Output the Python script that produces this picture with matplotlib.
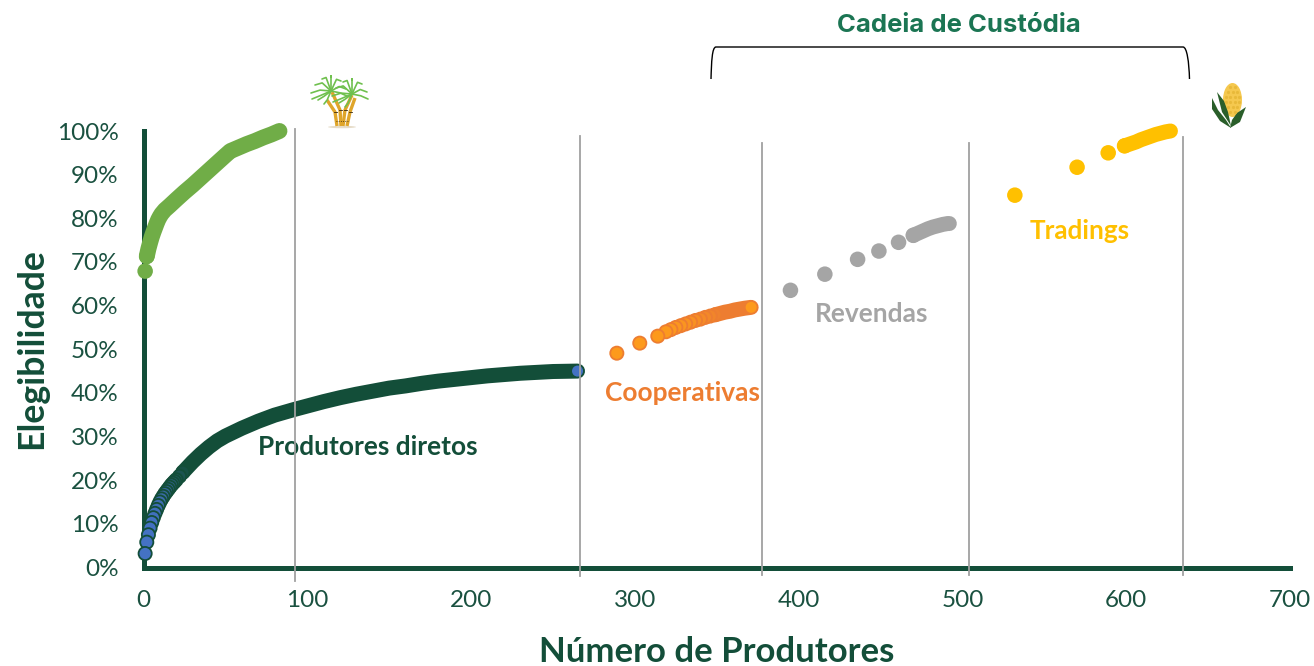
import matplotlib
matplotlib.use('Agg')
import matplotlib.pyplot as plt
from matplotlib.colors import to_rgb
from matplotlib.patches import Ellipse, PathPatch, Polygon
from matplotlib.path import Path

plt.rcParams['font.family'] = ['Lato', 'DejaVu Sans']

# dados
x_prod = [1, 2, 3, 4, 5, 6, 7, 8, 9, 10, 11, 12, 13, 14, 15, 16, 17, 18, 19, 20, 22, 24, 26, 28, 30,
          35, 40, 45, 50, 55, 60, 70, 80, 92, 100, 110, 120, 130, 140, 150, 160, 170, 180, 190, 200,
          210, 220, 230, 240, 250, 265]
y_prod = [3.2, 5.8, 7.5, 9.0, 10.3, 11.4, 12.4, 13.3, 14.2, 15.0, 15.7, 16.3, 16.9, 17.4, 17.9, 18.4,
          18.9, 19.3, 19.7, 20.1, 20.9, 21.8, 22.6, 23.4, 24.2, 26.0, 27.6, 29.0, 30.1, 31.0, 31.9,
          33.5, 34.9, 36.2, 37.0, 38.0, 38.9, 39.7, 40.4, 41.1, 41.6, 42.2, 42.7, 43.1, 43.5, 43.9,
          44.2, 44.5, 44.7, 44.9, 45.0]

x_cana = [1, 2, 3, 4, 5, 6, 7, 8, 9, 10, 11, 13, 16, 20, 25, 30, 35, 40, 45, 50, 53, 58, 63, 68, 73, 78, 83]
y_cana = [67.9, 71.3, 73.0, 74.4, 75.7, 76.8, 77.8, 78.8, 79.7, 80.4, 81.0, 81.9, 82.9, 84.3, 86.0,
          87.6, 89.3, 91.0, 92.7, 94.4, 95.4, 96.2, 97.0, 97.7, 98.5, 99.2, 100.0]

x_coop = [289, 303, 314, 319, 322, 325, 328, 331, 334, 337, 340, 343, 346, 349, 352, 355, 358, 361, 364, 367, 369, 371]
y_coop = [49.1, 51.4, 53.0, 54.0, 54.5, 55.0, 55.4, 55.8, 56.2, 56.6, 56.9, 57.3, 57.6, 57.9, 58.2,
          58.5, 58.7, 59.0, 59.2, 59.4, 59.5, 59.6]

x_rev = [395, 416, 436, 449, 461, 470, 473, 476, 479, 482, 485, 488, 491, 492]
y_rev = [63.5, 67.2, 70.6, 72.5, 74.5, 76.1, 76.6, 77.1, 77.6, 78.0, 78.3, 78.6, 78.8, 78.8]

x_trad = [532, 570, 589, 599, 606, 609, 612, 615, 618, 621, 624, 627]
y_trad = [85.3, 91.7, 95.0, 96.6, 97.5, 98.0, 98.4, 98.8, 99.2, 99.5, 99.8, 100.0]

xticks = [0, 100, 200, 300, 400, 500, 600, 700]
yticks = list(range(0, 101, 10))
ylabels = [f'{v}%' for v in yticks]

ESCURO = '#134e39'
TEXTO = '#1a5140'
AZUL = '#4472c4'
VERDE = '#70ad47'
LARANJA = '#ed7d31'
LARANJA2 = '#fd9a1c'
CINZA = '#a5a5a5'
AMARELO = '#ffc000'

W, H = 1314, 666
fig = plt.figure(figsize=(W / 100, H / 100), dpi=100)
ax = fig.add_axes([143.5 / W, 1 - 567.5 / H, (1290 - 143.5) / W, (567.5 - 131) / H])
ax.set_xlim(0, 700)
ax.set_ylim(0, 100)
for lado in ['top', 'right']:
    ax.spines[lado].set_visible(False)
for lado in ['left', 'bottom']:
    ax.spines[lado].set_linewidth(3.6)
    ax.spines[lado].set_color(ESCURO)
ax.set_xticks(xticks)
ax.set_yticks(yticks)
ax.set_yticklabels(ylabels)
ax.tick_params(axis='y', length=0, pad=18, labelsize=17.5, labelcolor=TEXTO)
ax.tick_params(axis='x', length=0, pad=16, labelsize=17.5, labelcolor=TEXTO)
ax.set_xlabel('Número de Produtores', fontsize=25, fontweight='bold', color=ESCURO)
ax.xaxis.set_label_coords((717 - 143.5) / (1290 - 143.5), -(652 - 567.5) / (567.5 - 131))
ax.xaxis.label.set_verticalalignment('center')
ax.set_ylabel('Elegibilidade', fontsize=25.7, fontweight='bold', color=ESCURO)
ax.yaxis.set_label_coords(-(143.5 - 32) / (1290 - 143.5), (567.5 - 349) / (567.5 - 131))
ax.yaxis.label.set_verticalalignment('center')


def mistura(c1, c2, t):
    a, b = to_rgb(c1), to_rgb(c2)
    return tuple(a[i] * (1 - t) + b[i] * t for i in range(3))


def serie(xs, ys, face, borda, n_claros, tam=90, lw=10.8):
    # linha grossa por baixo; so os primeiros pontos aparecem, de tras para frente
    ax.plot(xs[n_claros - 1:], ys[n_claros - 1:], color=borda, lw=lw, solid_capstyle='round',
            solid_joinstyle='round', clip_on=False, zorder=3)
    faces = [mistura(face, borda, (i / n_claros) ** 2) for i in range(n_claros)]
    ax.scatter(xs[:n_claros][::-1], ys[:n_claros][::-1], s=tam, c=faces[::-1], edgecolors=borda,
               linewidths=1.3, clip_on=False, zorder=4)
    ax.scatter(xs[-1:], ys[-1:], s=tam * 0.7, c=[face], edgecolors='none', clip_on=False, zorder=5)


ax.plot(x_cana[1:], y_cana[1:], color=VERDE, lw=11.5, solid_capstyle='round', solid_joinstyle='round',
        clip_on=False, zorder=3)
ax.scatter(x_cana[:2], y_cana[:2], s=125, c=VERDE, edgecolors='none', clip_on=False, zorder=4)
serie(x_prod, y_prod, AZUL, ESCURO, 22)
serie(x_coop, y_coop, LARANJA2, LARANJA, 14)
ax.plot(x_rev[5:], y_rev[5:], color=CINZA, lw=10.8, solid_capstyle='round', zorder=3)
ax.scatter(x_rev[:6], y_rev[:6], s=125, c=CINZA, edgecolors='none', zorder=4)
ax.plot(x_trad[3:], y_trad[3:], color=AMARELO, lw=10.8, solid_capstyle='round', clip_on=False, zorder=3)
ax.scatter(x_trad[:4], y_trad[:4], s=125, c=AMARELO, edgecolors='none', clip_on=False, zorder=4)

# camada em pixels para linhas divisorias, chave, rotulos e icones
top = fig.add_axes([0, 0, 1, 1], facecolor='none')
top.set_xlim(0, W)
top.set_ylim(H, 0)
top.axis('off')

for px, y0, y1 in [(295, 129, 581), (580, 136, 576), (762, 143, 575), (969, 143, 575), (1183, 137, 575)]:
    top.plot([px, px], [y0, y1], color='#a0a0a0', lw=1.3, zorder=6)

chave = Path([(711, 79), (711.5, 62), (712, 47), (716, 47), (1183, 47), (1187, 47), (1189, 62), (1189.5, 79)],
             [Path.MOVETO, Path.CURVE4, Path.CURVE4, Path.CURVE4, Path.LINETO, Path.CURVE4, Path.CURVE4, Path.CURVE4])
top.add_patch(PathPatch(chave, fc='none', ec='black', lw=1.0))

top.text(958.5, 25, 'Cadeia de Custódia', fontsize=18.5, fontweight='bold', color='#1b7553',
         family=['Inter', 'DejaVu Sans'], ha='center', va='center')
top.text(368, 447, 'Produtores diretos', fontsize=18.9, fontweight='bold', color=ESCURO, ha='center', va='center')
top.text(683, 393, 'Cooperativas', fontsize=18.9, fontweight='bold', color=LARANJA, ha='center', va='center')
top.text(872, 314, 'Revendas', fontsize=19, fontweight='bold', color=CINZA, ha='center', va='center')
top.text(1080, 231, 'Tradings', fontsize=18.8, fontweight='bold', color=AMARELO, ha='center', va='center')

# icone da cana
top.add_patch(Ellipse((342, 127), 28, 2.5, color='#e6dcc8', lw=0))
for xs_c, ys_c in [([337, 335, 327], [126, 112, 100]), ([341, 340, 332], [126, 110, 92]),
                   ([343, 345, 352], [126, 110, 95]), ([347, 350, 355], [126, 112, 98])]:
    top.plot(xs_c, ys_c, color='#dfa52a', lw=2.4, solid_capstyle='butt', solid_joinstyle='round')
    top.plot([xs_c[1] - 1.5, xs_c[1] + 1.5], [ys_c[1], ys_c[1]], color='#3a2a10', lw=0.6)
top.plot([336, 340, 344, 348], [121, 121, 121, 121], color='#3a2a10', lw=0.6, ls=':')
for cx, cy in [(331, 91), (352, 94)]:
    for dx, dy in [(-20, -1), (-16, -9), (-9, -15), (0, -17), (10, -13), (15, -5), (16, 2), (-13, 6), (-19, 5), (-7, 10)]:
        top.plot([cx, cx + dx * 0.55, cx + dx], [cy, cy + dy * 0.9, cy + dy + 3], color='#6fc04e', lw=1.2,
                 solid_capstyle='round')

# icone do milho
top.add_patch(Ellipse((1232.5, 100), 19, 34, color='#f5c84f', lw=0))
for fy, largura in [(87, 2), (92, 3), (97, 4), (102, 4), (107, 3), (112, 2)]:
    for k in range(largura):
        top.plot([1232.5 + (k - (largura - 1) / 2) * 4.2], [fy], 'o', ms=2.3, color='#e8b93a', mew=0)
top.add_patch(Polygon([(1231, 128), (1220, 121), (1212, 109), (1212, 98), (1218, 110), (1226, 120)],
                      closed=True, fc='#2a5e2a', ec='none'))
top.add_patch(Polygon([(1231, 126), (1222, 112), (1217, 92), (1224, 101), (1228, 112)],
                      closed=True, fc='#2a5e2a', ec='none'))
top.add_patch(Polygon([(1230, 128), (1240, 122), (1246, 107), (1237, 113), (1232, 120)],
                      closed=True, fc='#2a5e2a', ec='none'))

fig.savefig('out.png', dpi=100)
